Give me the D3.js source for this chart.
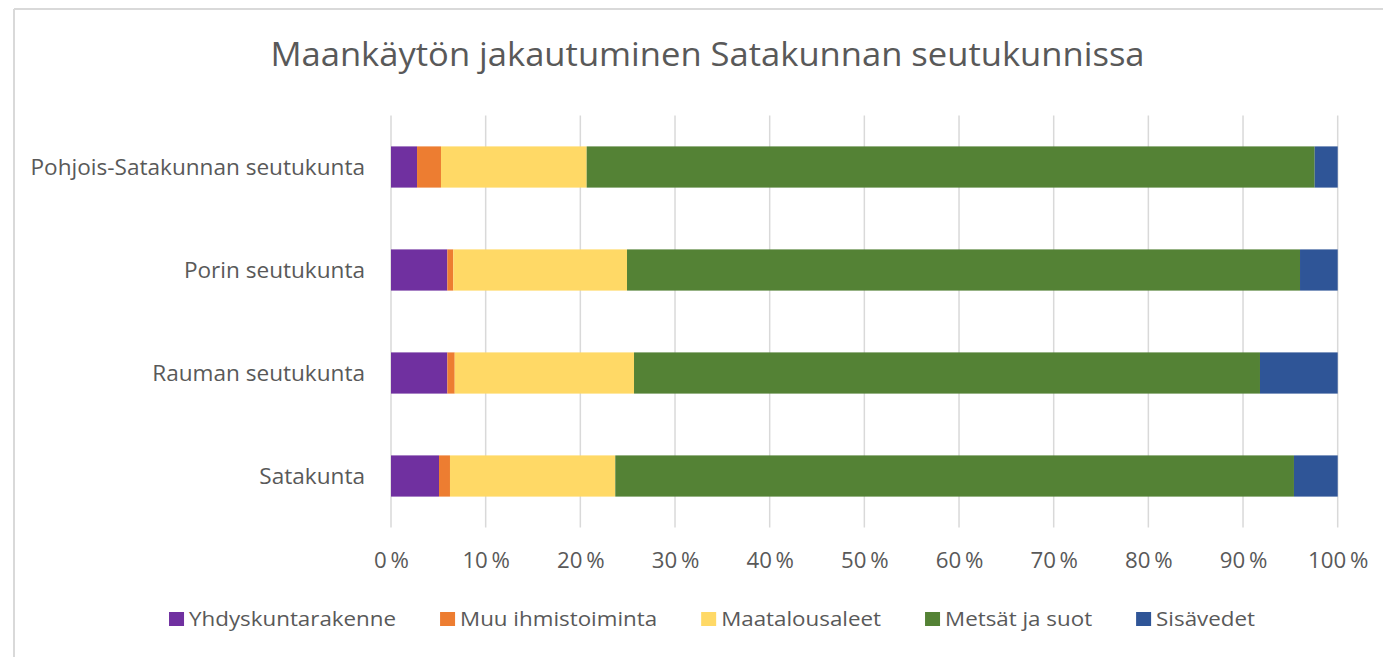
<!DOCTYPE html>
<html>
<head>
<meta charset="utf-8">
<script src="https://cdn.jsdelivr.net/npm/d3@7"></script>
<style>
  body { margin: 0; background: #fff; }
  svg { font-family: "Open Sans", sans-serif; }
</style>
</head>
<body>
<div id="chart"></div>
<script>
var categories = ["Pohjois-Satakunnan seutukunta", "Porin seutukunta", "Rauman seutukunta", "Satakunta"];
var seriesNames = ["Yhdyskuntarakenne", "Muu ihmistoiminta", "Maatalousaleet", "Metsät ja suot", "Sisävedet"];
var yhdyskunta = [2.75, 5.95, 5.95, 5.07];
var muu = [2.53, 0.63, 0.78, 1.16];
var maatalous = [15.39, 18.35, 18.94, 17.46];
var metsat = [76.9, 71.09, 66.12, 71.69];
var sisavedet = [2.43, 3.98, 8.21, 4.62];
var xTicks = [0, 10, 20, 30, 40, 50, 60, 70, 80, 90, 100];
var colors = ["#7030a0", "#ed7d31", "#ffd966", "#548235", "#2f5597"];

var width = 1383, height = 657;
var margin = { top: 115.5, right: 45.3, bottom: 129.5, left: 391 };
var graphWidth = width - margin.left - margin.right,
  graphHeight = height - margin.top - margin.bottom;
var stretch = 1.08; // source font is a bit wider than Open Sans

function widen(sel, k) {
  sel.each(function () {
    var w = this.getComputedTextLength();
    d3.select(this).attr("textLength", w * k).attr("lengthAdjust", "spacingAndGlyphs");
  });
}

var table = categories.map(function (c, i) {
  var vals = [yhdyskunta[i], muu[i], maatalous[i], metsat[i], sisavedet[i]];
  var o = { cat: c };
  seriesNames.forEach(function (s, j) { o[s] = vals[j]; });
  return o;
});
var stacked = d3.stack().keys(seriesNames)(table);

var svg = d3.select("#chart").append("svg").attr("width", width).attr("height", height);

// chart frame (only top and left edges visible in the crop)
svg.append("line").attr("x1", 14).attr("x2", width).attr("y1", 9).attr("y2", 9)
  .attr("stroke", "#d9d9d9").attr("stroke-width", 2);
svg.append("line").attr("x1", 14).attr("x2", 14).attr("y1", 9).attr("y2", height)
  .attr("stroke", "#d9d9d9").attr("stroke-width", 2);

svg.append("text")
  .attr("x", 707.5).attr("y", 66)
  .attr("text-anchor", "middle")
  .style("font-size", "32px")
  .attr("fill", "#595959")
  .text("Maankäytön jakautuminen Satakunnan seutukunnissa")
  .call(widen, stretch);

var graph = svg.append("g").attr("transform", "translate(" + margin.left + "," + margin.top + ")");

var x = d3.scaleLinear().domain([0, 100]).range([0, graphWidth]);
var y = d3.scaleBand().domain(categories).range([0, graphHeight]).paddingInner(0.6).paddingOuter(0.3);

graph.selectAll("line.grid").data(xTicks).enter().append("line")
  .attr("class", "grid")
  .attr("x1", function (d) { return x(d); })
  .attr("x2", function (d) { return x(d); })
  .attr("y1", 0).attr("y2", graphHeight)
  .attr("stroke", "#d9d9d9").attr("stroke-width", 1.5);

graph.selectAll("g.layer").data(stacked).enter().append("g")
  .attr("class", "layer")
  .attr("fill", function (d, i) { return colors[i]; })
  .selectAll("rect").data(function (d) { return d; }).enter().append("rect")
  .attr("x", function (d) { return x(d[0]); })
  .attr("width", function (d) { return x(d[1]) - x(d[0]); })
  .attr("y", function (d) { return y(d.data.cat); })
  .attr("height", y.bandwidth());

var gX = graph.append("g").attr("transform", "translate(0," + graphHeight + ")")
  .call(d3.axisBottom(x).tickValues(xTicks).tickSize(0).tickFormat(function (d) { return d + "\u2009%"; }));
gX.select(".domain").remove();
gX.selectAll("text").attr("y", 40).attr("dy", 0)
  .style("font-size", "21px").style("font-family", "Open Sans").attr("fill", "#595959")
  .call(widen, 1.06);

var gY = graph.append("g").call(d3.axisLeft(y).tickSize(0));
gY.select(".domain").remove();
gY.selectAll("text").attr("x", -26).attr("dy", "0.36em")
  .style("font-size", "21.5px").style("font-family", "Open Sans").attr("fill", "#595959")
  .call(widen, 1.05);

// legend
var legend = svg.append("g");
var items = legend.selectAll("g").data(seriesNames).enter().append("g");
items.append("rect").attr("width", 15).attr("height", 14).attr("y", -14)
  .attr("fill", function (d, i) { return colors[i]; });
items.append("text").attr("x", 20).attr("y", 0)
  .style("font-size", "20.5px").attr("fill", "#595959")
  .text(function (d) { return d; })
  .call(widen, 1.09);
var offset = 0, gap = 44, starts = [];
items.each(function () {
  var t = d3.select(this).select("text");
  starts.push(offset);
  offset += 20 + +t.attr("textLength") + gap;
});
var total = offset - gap;
var start = 712 - total / 2;
items.attr("transform", function (d, i) {
  return "translate(" + (start + starts[i]) + ",626)";
});
</script>
</body>
</html>
